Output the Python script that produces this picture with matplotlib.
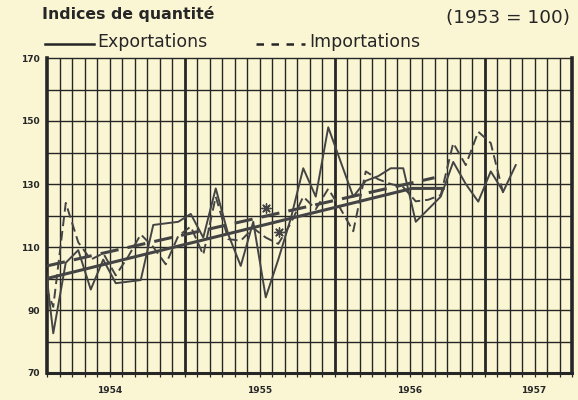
import numpy as np
import matplotlib
matplotlib.use("Agg")
import matplotlib.pyplot as plt
from matplotlib.lines import Line2D
from matplotlib.transforms import blended_transform_factory

# monthly quantity indices (1953 = 100), first value is Jan 1954 (clipped at the edge)
exportations = [117, 82.6, 105, 109, 96.5, 106, 98.5, 99, 99.5, 117, 117.5, 118, 120.5,
                113, 128.6, 114, 104, 118, 94, 106, 119, 135, 126, 148, 137,
                126, 131, 132.5, 135, 135, 118, 122, 126, 137, 130, 124.4, 134,
                127.6, 136]
importations = [101.5, 91, 124, 111.5, 106, 108, 101, 107, 114, 110, 104.5, 113.5, 116.5,
                107.5, 126, 112.5, 112, 116, 113, 111, 117.5, 126, 122, 128.5, 122,
                115, 134, 131.5, 130, 129, 124.5, 125, 126.5, 143, 136, 146.6, 143,
                127]

# trend lines (month, value)
export_trend_x = [0, 29.2, 31.7]
export_trend_y = [100, 128.6, 128.6]
import_trend_x = [0, 31]
import_trend_y = [104, 132]

# asterisks (month, value)
star_x = [17.5, 18.55]
star_y = [122.3, 114.9]

year_labels = ['1954', '1955', '1956', '1957']
year_ticks = [5, 17, 29, 38.9]
y_labels = [70, 90, 110, 130, 150, 170]

bg = '#faf6d4'
ink = '#262626'
line_col = '#444444'
font = 'DejaVu Sans'

fig = plt.figure(figsize=(5.78, 4), dpi=100)
fig.patch.set_facecolor(bg)
ax = fig.add_axes([47 / 578, 27 / 400, 525 / 578, 315 / 400])
ax.set_facecolor(bg)
ax.set_xlim(0, 42)
ax.set_ylim(70, 170)

# paper grid: months and steps of 10
for m in range(1, 42):
    ax.axvline(m, color=ink, lw=2.0 if m in (11, 23, 35) else 1.0, zorder=1)
for v in range(80, 170, 10):
    ax.axhline(v, color=ink, lw=1.0, zorder=1)

for side, w in [('left', 2.6), ('bottom', 2.2), ('right', 2.6), ('top', 1.0)]:
    ax.spines[side].set_linewidth(w)
    ax.spines[side].set_color(ink)

x_exp = np.arange(len(exportations)) - 0.5
x_imp = np.arange(len(importations)) - 0.5
ax.plot(x_exp, exportations, color=line_col, lw=1.4, zorder=3)
ax.plot(x_imp, importations, color=line_col, lw=1.4, ls=(0, (5, 2.5)), zorder=3)
ax.plot(export_trend_x, export_trend_y, color=line_col, lw=2.2, zorder=3)
ax.plot(import_trend_x, import_trend_y, color=line_col, lw=2.2, ls=(0, (6, 3)), zorder=3)
ax.scatter(star_x, star_y, marker=(8, 2, 0), s=45, color=line_col, lw=1.0, zorder=4)

ax.set_yticks(y_labels)
ax.set_yticklabels([str(v) for v in y_labels], fontsize=6.5, fontweight='bold',
                   family=font, color=ink)
ax.tick_params(axis='y', length=0, pad=5)
ax.set_xticks(range(0, 43))
ax.set_xticklabels([])
ax.tick_params(axis='x', length=3, width=0.9, color=ink, direction='out')

trans = blended_transform_factory(ax.transData, ax.transAxes)
for pos, lab in zip(year_ticks, year_labels):
    ax.text(pos, -0.055, lab, transform=trans, ha='center', va='center',
            fontsize=6.5, fontweight='bold', family=font, color=ink)

# header and legend
fig.text(42 / 578, 1 - 14 / 400, 'Indices de quantité', fontsize=11.3, fontweight='bold',
         family=font, color=ink, va='center', ha='left')
fig.text(570 / 578, 1 - 18 / 400, '(1953 = 100)', fontsize=13.3, family=font,
         color=ink, va='center', ha='right')
fig.add_artist(Line2D([45 / 578, 94 / 578], [1 - 44 / 400] * 2, color=ink, lw=1.8))
fig.text(97 / 578, 1 - 42 / 400, 'Exportations', fontsize=12.5, family=font,
         color=ink, va='center', ha='left')
fig.add_artist(Line2D([256 / 578, 305 / 578], [1 - 44 / 400] * 2, color=ink, lw=1.8,
                      ls=(0, (3, 3))))
fig.text(309 / 578, 1 - 42 / 400, 'Importations', fontsize=12.5, family=font,
         color=ink, va='center', ha='left')

fig.savefig('out.png', dpi=100, facecolor=bg)
